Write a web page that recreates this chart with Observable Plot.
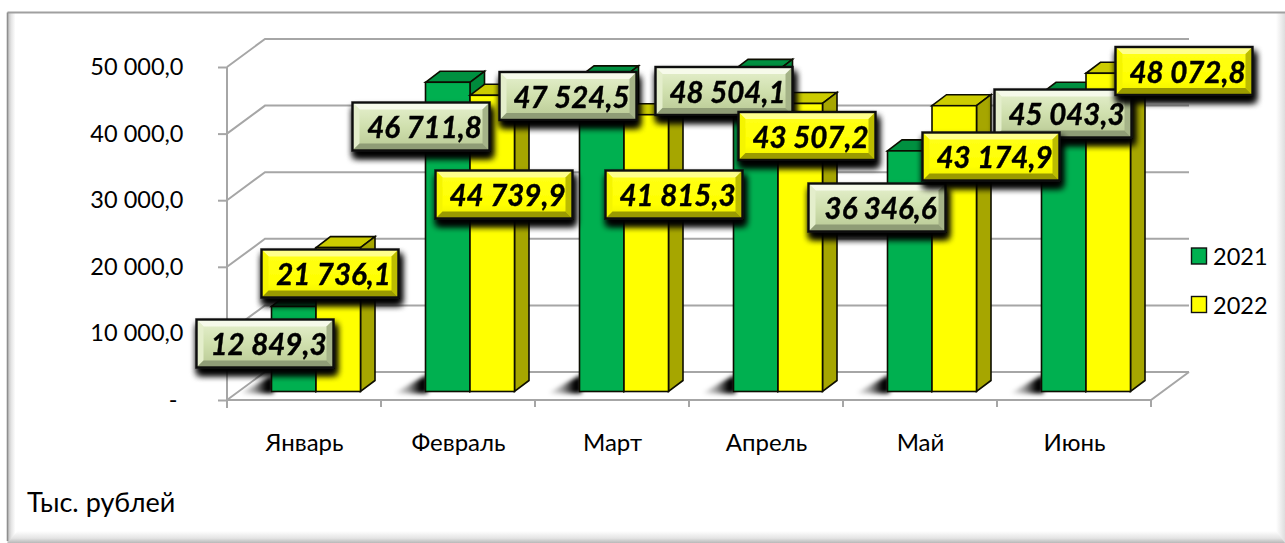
<!DOCTYPE html>
<html><head><meta charset="utf-8">
<script src="https://cdn.jsdelivr.net/npm/d3@7"></script>
<script src="https://cdn.jsdelivr.net/npm/@observablehq/plot@0.6"></script>
<style>html,body{margin:0;padding:0;background:#fff;overflow:hidden}svg{display:block}</style>
</head><body><div id="chart"></div>
<script>
const months = ["Январь","Февраль","Март","Апрель","Май","Июнь"];
const values2021 = [12849.3,46711.8,47524.5,48504.1,36346.6,45043.3];
const values2022 = [21736.1,44739.9,41815.3,43507.2,43174.9,48072.8];
const years = ["2021","2022"];
const yTicks = [0,10000,20000,30000,40000,50000];
const unitLabel = "Тыс. рублей";

// hand-placed data-label box centres (layout only)
const labelCx = {
  "2021":[265,421,568,724,877,1063],
  "2022":[330,504,674,807,991,1184]};
const labelCy = {
  "2021":[343.5,126.5,96,91,207.5,113.5],
  "2022":[273.5,194.5,194.5,136,156.5,71]};

const fmt = v => { const [a,b]=v.toFixed(1).split("."); return a.replace(/\B(?=(\d{3})+$)/g," ")+","+b; };
const tickFmt = v => v===0 ? "-\u00a0" : fmt(v);

const rows = years.flatMap((yr,s)=>months.map((m,i)=>({month:m,i,year:yr,s,value:(s?values2022:values2021)[i]})));
const GREEN={front:"#00b050",top:"#009040",side:"#008a3c"}, YEL={front:"#ffff00",top:"#cccc00",side:"#a6a600"};
const pal = s => s?YEL:GREEN;
const NS="http://www.w3.org/2000/svg";
const el=(n,a,p)=>{const e=document.createElementNS(NS,n);for(const k in a)e.setAttribute(k,a[k]);if(p)p.appendChild(e);return e;};
const pts=a=>a.map(p=>p.join(",")).join(" ");
const grad=(defs,id,dir,stops)=>{const g=el("linearGradient",{id,x1:0,y1:0,x2:dir==="h"?1:0,y2:dir==="h"?0:1},defs);
  stops.forEach(([o,c,a])=>el("stop",{offset:o,"stop-color":c,"stop-opacity":a??1},g));};

const depth={dx:38,dy:-28}, barDepth={dx:14.5,dy:-11}, barWidth=44.5, baseLift=8.5, baseShift=12, barPerspective=0.994;

function frame(i,s,v,d){
  const g=el("g",{});
  const defs=el("defs",{},g);
  grad(defs,"leftBevel","h",[[0,"#bdbdbd"],[.5,"#e6e6e6"],[1,"#ffffff"]]);
  grad(defs,"rightBevel","h",[[0,"#ffffff"],[1,"#dedede"]]);
  grad(defs,"botBevel","v",[[0,"#ffffff"],[.6,"#e4e4e4"],[1,"#b8b8b8"]]);
  grad(defs,"floorShade","h",[[0,"#000",0],[.45,"#000",.4],[.8,"#000",1],[1,"#000",1]]);
  grad(defs,"faceG","v",[[0,"#e6f0cf"],[.5,"#d0e0ae"],[1,"#b8c894"]]);
  grad(defs,"faceY","v",[[0,"#ffff1a"],[.7,"#ffff00"],[1,"#eeee00"]]);
  const f=el("filter",{id:"boxShadow",x:"-20%",y:"-30%",width:"140%",height:"170%"},defs);
  el("feGaussianBlur",{in:"SourceAlpha",stdDeviation:3.5,result:"b"},f);
  el("feOffset",{in:"b",dx:2,dy:6,result:"o"},f);
  const m=el("feMerge",{},f);el("feMergeNode",{in:"o"},m);el("feMergeNode",{in:"o"},m);el("feMergeNode",{in:"SourceGraphic"},m);
  const lb=el("filter",{id:"soft",x:"-30%",y:"-30%",width:"160%",height:"160%"},defs);el("feGaussianBlur",{stdDeviation:2},lb);
  const L=7.5,T=12.5,W=d.width,H=d.height;
  el("rect",{x:L,y:T,width:W-L,height:H-T,fill:"#fff"},g);
  el("rect",{x:L,y:T,width:8,height:H-T,fill:"url(#leftBevel)"},g);
  el("rect",{x:W-9,y:T,width:9,height:H-T,fill:"url(#rightBevel)"},g);
  el("polygon",{points:pts([[L,H],[L+10,H-12],[W-9,H-12],[W,H]]),fill:"url(#botBevel)"},g);
  el("line",{x1:L,x2:W,y1:T,y2:T,stroke:"#a0a0a0","stroke-width":2},g);
  el("line",{x1:L,x2:L,y1:T,y2:H-2,stroke:"#8f8f8f","stroke-width":1.6},g);
  return g;
}
function walls(i,s,v,d){
  const g=el("g",{stroke:"#a6a6a6","stroke-width":2,fill:"none"});
  const x0=d.marginLeft,x1=d.width-d.marginRight,y0=s.y(0);
  const bw=(x1-x0)/months.length;
  for(const t of yTicks){
    const y=s.y(t);
    el("polyline",{points:pts([[x0,y],[x0+depth.dx,y+depth.dy],[x1+depth.dx,y+depth.dy]])},g);
  }
  el("line",{x1:x0,x2:x0,y1:s.y(50000),y2:y0+8},g);
  el("polyline",{points:pts([[x0,y0],[x1,y0],[x1+depth.dx,y0+depth.dy]])},g);
  for(let k=1;k<=months.length;k++) el("line",{x1:x0+k*bw,x2:x0+k*bw,y1:y0,y2:y0+7},g);
  return g;
}
function bars(i,s,v,d){
  const g=el("g",{stroke:"#0d0d00","stroke-width":1.6,"stroke-linejoin":"miter"});
  const x0=d.marginLeft,bw=(d.width-d.marginRight-x0)/months.length,base=s.y(0)-baseLift;
  const h=t=>(s.y(0)-s.y(t))*barPerspective;
  months.forEach((m,k)=>{
    const cx=x0+bw*k+bw/2+baseShift, l=cx-barWidth;
    el("polygon",{points:pts([[l-32,base+2],[l+2,base-17],[l+2,base+2]]),fill:"url(#floorShade)",stroke:"none",filter:"url(#soft)"},g);
  });
  months.forEach((m,k)=>{
    const cx=x0+bw*k+bw/2+baseShift;
    [0,1].forEach(si=>{
      const val=(si?values2022:values2021)[k],c=pal(si);
      const l=cx-barWidth+si*barWidth,r=l+barWidth,t=base-h(val);
      const {dx,dy}=barDepth;
      el("polygon",{points:pts([[l,t],[l+dx,t+dy],[r+dx,t+dy],[r,t]]),fill:c.top},g);
      el("polygon",{points:pts([[r,t],[r+dx,t+dy],[r+dx,base+dy],[r,base]]),fill:c.side},g);
      el("rect",{x:l,y:t,width:barWidth,height:base-t,fill:c.front},g);
    });
  });
  return g;
}
function boxes(i,s,v,d){
  const g=el("g",{});
  const W=137,H=48,b=7;
  rows.forEach(r=>{
    const cx=labelCx[r.year][r.i],cy=labelCy[r.year][r.i];
    const x=cx-W/2,y=cy-H/2,X=x+W,Y=y+H;
    const c=r.s?{f:"url(#faceY)",t:"#ffff8c",l:"#f5f500",r:"#bcbc00",b:"#9a9a00"}:{f:"url(#faceG)",t:"#f6faea",l:"#e4eecb",r:"#a5b388",b:"#8f9c76"};
    const gg=el("g",{filter:"url(#boxShadow)"},g);
    el("rect",{x,y,width:W,height:H,fill:c.f},gg);
    el("polygon",{points:pts([[x,y],[X,y],[X-b,y+b],[x+b,y+b]]),fill:c.t},gg);
    el("polygon",{points:pts([[x,y],[x+b,y+b],[x+b,Y-b],[x,Y]]),fill:c.l},gg);
    el("polygon",{points:pts([[X,y],[X,Y],[X-b,Y-b],[X-b,y+b]]),fill:c.r},gg);
    el("polygon",{points:pts([[x,Y],[X,Y],[X-b,Y-b],[x+b,Y-b]]),fill:c.b},gg);
    el("rect",{x,y,width:W,height:H,fill:"none",stroke:"#0b0b0b","stroke-width":2.4},gg);
    const t=el("text",{x:cx+3.5,y:cy,"text-anchor":"middle","dominant-baseline":"central","font-size":29.5,"font-weight":700,"font-style":"italic",fill:"#000",stroke:"#000","stroke-width":.4,"font-family":"Lato"},gg);
    t.textContent=fmt(r.value);
  });
  return g;
}
function legend(i,s,v,d){
  const g=el("g",{"font-family":"Lato","font-size":23.5,fill:"#000","text-anchor":"start"});
  years.forEach((yr,k)=>{
    const y=256+48.5*k,c=pal(k);
    el("rect",{x:1191.5,y:y-8,width:15,height:16,fill:c.front,stroke:"#111","stroke-width":1.4},g);
    const t=el("text",{x:1213,y:y,"dominant-baseline":"central"},g);t.textContent=yr;
  });
  const u=el("text",{x:27,y:501,"dominant-baseline":"central","font-size":27},g);u.textContent=unitLabel;
  return g;
}

const chart = Plot.plot({
  width:1285,height:543,
  marginLeft:227,marginRight:134,marginTop:67,marginBottom:143,
  style:{fontFamily:"Lato",fontSize:"21px",color:"#000",background:"transparent"},
  x:{type:"band",domain:months,padding:0,label:null},
  y:{domain:[0,50000],label:null},
  marks:[
    frame,
    Plot.axisY({ticks:yTicks,tickFormat:tickFmt,tickSize:9,tickPadding:35,stroke:"#a6a6a6",strokeWidth:2,fontSize:23.5,label:null,fill:"#000",textStroke:"none"}),
    Plot.axisX({tickSize:0,tickPadding:33,fontSize:24,label:null,fill:"#000"}),
    walls,bars,boxes,legend
  ]
});
document.getElementById("chart").appendChild(chart);
</script></body></html>
